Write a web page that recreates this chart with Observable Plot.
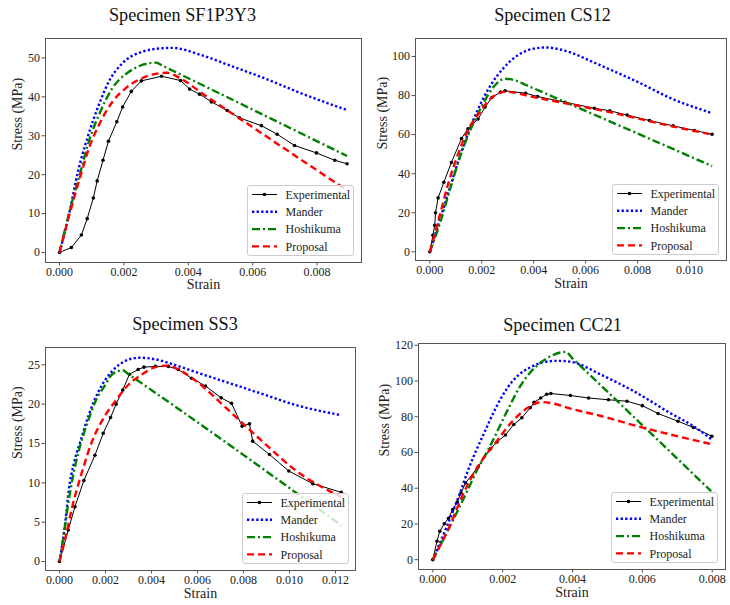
<!DOCTYPE html>
<html><head><meta charset="utf-8">
<script src="https://cdn.jsdelivr.net/npm/d3@7"></script>
<script src="https://cdn.jsdelivr.net/npm/@observablehq/plot@0.6"></script>
<style>
body{margin:0;background:#fff;}
#root{position:relative;width:730px;height:605px;overflow:hidden;font-family:"Liberation Serif","Tinos","Times New Roman",serif;}
.panel{position:absolute;}
.title{position:absolute;transform:translate(-50%,-50%);font-size:18.2px;font-weight:normal;white-space:nowrap;color:#111;font-family:"Liberation Serif","Tinos","Times New Roman",serif;}
</style></head><body><div id="root"></div><script>
// ---------- Specimen SF1P3Y3 ----------
const sfStrainTicks = [0, 0.002, 0.004, 0.006, 0.008];
const sfStressTicks = [0, 10, 20, 30, 40, 50];
const sfExperimental = [[0,0],[0.00037,1.3],[0.00068,4.5],[0.00086,8.7],[0.00105,14.0],[0.00117,18.4],[0.00135,23.7],[0.00152,28.6],[0.00178,33.6],[0.00196,37.4],[0.00223,41.4],[0.00254,44.1],[0.00317,45.3],[0.00376,44.2],[0.00404,42.0],[0.00435,40.7],[0.00472,38.7],[0.00521,36.5],[0.00559,34.6],[0.00627,32.6],[0.00676,30.4],[0.0073,27.5],[0.00798,25.6],[0.00855,23.7],[0.00893,22.8]];
const sfMander = [[0,0],[0.00029,9.6],[0.00057,20.7],[0.00086,29.3],[0.00122,37.9],[0.00153,43.9],[0.00195,48.6],[0.00257,51.6],[0.0032,52.5],[0.0035,52.6],[0.00438,50.8],[0.00541,47.7],[0.00645,44.5],[0.00748,41.0],[0.00893,36.6]];
const sfHoshikuma = [[0,0],[0.0003,10.2],[0.00065,20.7],[0.00091,28.5],[0.00122,35.3],[0.00164,42.2],[0.00215,46.4],[0.00257,48.2],[0.003,48.8],[0.0032,48.0],[0.00893,24.8]];
const sfProposal = [[0,0],[0.0003,9.5],[0.00068,20.5],[0.00091,26.7],[0.00122,32.7],[0.00164,38.7],[0.00205,42.2],[0.00246,44.4],[0.00288,45.7],[0.00334,46.2],[0.0037,45.0],[0.0045,40.5],[0.0056,34.4],[0.0067,28.3],[0.0078,22.2],[0.00893,16.0]];

// ---------- Specimen CS12 ----------
const csStrainTicks = [0, 0.002, 0.004, 0.006, 0.008, 0.010];
const csStressTicks = [0, 20, 40, 60, 80, 100];
const csExperimental = [[0,0],[0.00012,8.5],[0.00019,13.6],[0.00022,20.0],[0.00032,27.6],[0.00054,35.6],[0.00083,45.7],[0.00122,58.0],[0.00147,63.0],[0.00186,68.0],[0.00213,74.1],[0.00239,79.0],[0.00273,81.8],[0.0029,82.4],[0.00369,81.2],[0.00415,79.5],[0.0052,76.6],[0.00634,73.5],[0.00693,72.2],[0.0076,70.0],[0.00846,67.2],[0.00937,64.5],[0.01019,62.1],[0.01087,60.2]];
const csMander = [[0,0],[0.0004,17],[0.0008,34],[0.0012,50.5],[0.0016,65],[0.002,77],[0.0024,86.5],[0.0028,93.5],[0.0032,98.8],[0.0036,102.2],[0.004,104],[0.0045,104.6],[0.005,103.6],[0.0055,101.7],[0.006,98.8],[0.0067,94.7],[0.008,87],[0.0093,78.5],[0.01087,71]];
const csHoshikuma = [[0,0],[0.0004,15],[0.0008,33],[0.0012,50],[0.0016,63.5],[0.002,74.5],[0.0023,81.5],[0.0026,86.5],[0.0029,88.6],[0.0033,87.7],[0.0037,85.4],[0.01087,43.9]];
const csProposal = [[0,0],[0.00035,17],[0.00073,35.8],[0.00112,51.2],[0.0015,63.1],[0.00189,70.8],[0.00227,77.6],[0.00262,80.9],[0.0029,82],[0.004,79.2],[0.005,76.6],[0.006,74.0],[0.007,71.3],[0.008,68.3],[0.009,65.2],[0.01,62.4],[0.01087,60.0]];

// ---------- Specimen SS3 ----------
const ssStrainTicks = [0, 0.002, 0.004, 0.006, 0.008, 0.010, 0.012];
const ssStressTicks = [0, 5, 10, 15, 20, 25];
const ssExperimental = [[0,0],[0.00038,4.0],[0.00067,6.95],[0.00106,10.3],[0.00154,13.5],[0.0019,16.3],[0.00222,18.3],[0.00246,20.0],[0.00275,21.8],[0.00304,23.8],[0.00342,24.4],[0.00367,24.7],[0.00417,24.8],[0.00473,24.8],[0.00516,24.4],[0.00574,23.3],[0.00635,22.3],[0.00703,20.8],[0.00748,20.1],[0.00794,17.2],[0.00826,17.5],[0.0084,15.3],[0.00913,13.6],[0.00997,11.5],[0.01101,9.9],[0.01225,8.8]];
const ssMander = [[0,0],[0.00026,5.2],[0.0004,9.0],[0.00062,12.4],[0.00091,15.3],[0.00128,18.7],[0.00171,21.7],[0.00229,24.2],[0.00287,25.5],[0.00345,25.9],[0.00417,25.7],[0.005,25.0],[0.006,24.0],[0.00736,22.7],[0.00881,21.3],[0.01026,19.9],[0.01225,18.6]];
const ssHoshikuma = [[0,0],[0.00019,3.5],[0.00033,6.4],[0.00055,10.3],[0.00084,14.1],[0.0012,17.5],[0.00157,20.4],[0.002,22.5],[0.00229,23.8],[0.00275,24.3],[0.003,23.8],[0.01225,4.6]];
const ssProposal = [[0,0],[0.00026,3.05],[0.00055,6.9],[0.00099,11.5],[0.00142,15.3],[0.00193,18.3],[0.00243,20.4],[0.00301,22.5],[0.0036,23.8],[0.00417,24.7],[0.0047,24.9],[0.0053,24.2],[0.00591,23.0],[0.00736,19.2],[0.00881,15.3],[0.01026,11.6],[0.01225,8.2]];

// ---------- Specimen CC21 ----------
const ccStrainTicks = [0, 0.002, 0.004, 0.006, 0.008];
const ccStressTicks = [0, 20, 40, 60, 80, 100, 120];
const ccExperimental = [[0,0],[0.00012,10.3],[0.0002,15.9],[0.00033,20.1],[0.00045,23.2],[0.00057,28.1],[0.0007,32.2],[0.00081,37.3],[0.00094,43.0],[0.0013,52.0],[0.00165,62.0],[0.00184,65.9],[0.00208,69.8],[0.00232,75.7],[0.00255,79.4],[0.00279,85.0],[0.0029,88.1],[0.00309,90.5],[0.00326,92.6],[0.00338,93.0],[0.00394,91.9],[0.00446,90.5],[0.00503,89.5],[0.00556,88.7],[0.006,86.2],[0.00645,81.8],[0.00702,77.5],[0.00746,74.0],[0.00799,69.1]];
const ccMander = [[0,0],[0.0004,18.5],[0.00078,37.4],[0.00102,50.6],[0.00126,61.9],[0.0015,72.2],[0.00179,84.4],[0.00212,95.7],[0.00245,103.3],[0.00283,108.0],[0.00322,110.8],[0.0036,111.3],[0.00395,110.8],[0.00484,103.3],[0.0058,93.8],[0.00675,82.6],[0.00751,74.1],[0.00797,67.5]];
const ccHoshikuma = [[0,0],[0.0005,19],[0.001,39],[0.0013,51.5],[0.0016,62],[0.0019,74],[0.0022,86],[0.0025,97],[0.0028,105],[0.0031,110.5],[0.0034,114.2],[0.0038,116.3],[0.004,112.6],[0.00797,38.3]];
const ccProposal = [[0,0],[0.0005,19.5],[0.00083,35],[0.0013,52.5],[0.0018,65.5],[0.00226,77],[0.00274,85.3],[0.0031,88.2],[0.0034,87.6],[0.0039,84.8],[0.00484,80.3],[0.0058,75],[0.00675,70.3],[0.00797,64.7]];

const seriesNames = ["Experimental", "Mander", "Hoshikuma", "Proposal"];

const panels = [
  {title:"Specimen SF1P3Y3", left:0, top:0, width:365, height:300, m:[38,4,38,45],
   xDomain:[-0.000435,0.009379], yDomain:[-2.57,55.0], xTicks:sfStrainTicks, yTicks:sfStressTicks,
   data:[sfExperimental, sfMander, sfHoshikuma, sfProposal], titleX:182.5, titleY:15,
   legend:[247,185], xLabelDy:26, yLabelDx:-28.3},
  {title:"Specimen CS12", left:365, top:0, width:365, height:300, m:[38,4,40,50],
   xDomain:[-0.000551,0.011425], yDomain:[-4.45,109.2], xTicks:csStrainTicks, yTicks:csStressTicks,
   data:[csExperimental, csMander, csHoshikuma, csProposal], titleX:552.5, titleY:15,
   legend:[612,184], xLabelDy:27.5, yLabelDx:-33.3},
  {title:"Specimen SS3", left:0, top:300, width:365, height:305, m:[47,10,35,45],
   xDomain:[-0.000609,0.01287], yDomain:[-1.14,27.2], xTicks:ssStrainTicks, yTicks:ssStressTicks,
   data:[ssExperimental, ssMander, ssHoshikuma, ssProposal], titleX:185, titleY:323.5,
   legend:[242,493], xLabelDy:27, yLabelDx:-28.3},
  {title:"Specimen CC21", left:365, top:300, width:365, height:305, m:[43,5,36,53],
   xDomain:[-0.000409,0.00838], yDomain:[-5.5,121.0], xTicks:ccStrainTicks, yTicks:ccStressTicks,
   data:[ccExperimental, ccMander, ccHoshikuma, ccProposal], titleX:562.5, titleY:325,
   legend:[611,492], xLabelDy:27, yLabelDx:-33.7}
];

const styles = {
  Experimental:{stroke:"#000000", strokeWidth:1, dash:null},
  Mander:{stroke:"#0000ff", strokeWidth:2.4, dash:"2.3,2.3"},
  Hoshikuma:{stroke:"#008000", strokeWidth:2.4, dash:"8,3,2,3"},
  Proposal:{stroke:"#ff0000", strokeWidth:2.4, dash:"7,4"}
};

const FONT = '"Liberation Serif","Tinos","Times New Roman",serif';
const root = document.getElementById("root");
const X = d => d[0], Y = d => d[1];

for (const p of panels) {
  const [exp, man, hos, pro] = p.data;
  const lineOpts = (name, curve) => ({x:X, y:Y, stroke:styles[name].stroke, strokeWidth:styles[name].strokeWidth,
    strokeDasharray:styles[name].dash || undefined, strokeLinecap:"butt", strokeLinejoin:"round", curve});
  const chart = Plot.plot({
    width:p.width, height:p.height,
    marginTop:p.m[0], marginRight:p.m[1], marginBottom:p.m[2], marginLeft:p.m[3],
    x:{domain:p.xDomain}, y:{domain:p.yDomain},
    style:{fontFamily:FONT, fontSize:"12px", color:"#222", background:"transparent", overflow:"visible"},
    marks:[
      Plot.axisX({ticks:p.xTicks, tickFormat:d3.format(".3f"), tickSize:3.5, tickPadding:1, fontSize:12, label:null, stroke:"#555"}),
      Plot.axisY({ticks:p.yTicks, tickFormat:d3.format("d"), tickSize:3.5, tickPadding:2, fontSize:12, label:null, stroke:"#555"}),
      Plot.line(exp, lineOpts("Experimental", "linear")),
      Plot.dot(exp, {x:X, y:Y, r:1.8, fill:"#000", stroke:"none"}),
      Plot.line(man, lineOpts("Mander", "monotone-x")),
      Plot.line(hos, lineOpts("Hoshikuma", "monotone-x")),
      Plot.line(pro, lineOpts("Proposal", "monotone-x")),
      Plot.text(["Strain"], {text:d=>d, frameAnchor:"bottom", dy:p.xLabelDy, fontSize:14, fill:"#222"}),
      Plot.text(["Stress (MPa)"], {text:d=>d, frameAnchor:"left", rotate:-90, dx:p.yLabelDx, fontSize:14, fill:"#222"}),
      Plot.frame({stroke:"#555", strokeWidth:1})
    ]
  });
  chart.style.fontFamily = FONT;
  const wrap = document.createElement("div");
  wrap.className = "panel";
  wrap.style.left = p.left + "px";
  wrap.style.top = p.top + "px";
  wrap.appendChild(chart);
  root.appendChild(wrap);

  const t = document.createElement("div");
  t.className = "title";
  t.textContent = p.title;
  t.style.left = p.titleX + "px";
  t.style.top = p.titleY + "px";
  root.appendChild(t);

  // legend
  const lw = 107, lh = 71;
  const svg = d3.create("svg").attr("width", lw).attr("height", lh)
    .style("position","absolute").style("left", p.legend[0]+"px").style("top", p.legend[1]+"px")
    .style("font-family", FONT);
  svg.append("rect").attr("x",0.5).attr("y",0.5).attr("width",lw-1).attr("height",lh-1).attr("rx",2.5)
    .attr("fill","#fff").attr("fill-opacity",0.8).attr("stroke","#cccccc");
  seriesNames.forEach((name, i) => {
    const cy = 9.5 + i*17.3;
    const s = styles[name];
    const ln = svg.append("line").attr("x1",5).attr("x2",30).attr("y1",cy).attr("y2",cy)
      .attr("stroke",s.stroke).attr("stroke-width",s.strokeWidth).attr("stroke-linecap","butt");
    if (s.dash) ln.attr("stroke-dasharray", s.dash);
    if (name === "Experimental") svg.append("circle").attr("cx",17.5).attr("cy",cy).attr("r",1.8).attr("fill","#000");
    svg.append("text").attr("x",38.5).attr("y",cy).attr("dy","0.35em").attr("font-size",12).attr("fill","#222").text(name);
  });
  root.appendChild(svg.node());
}
</script></body></html>
